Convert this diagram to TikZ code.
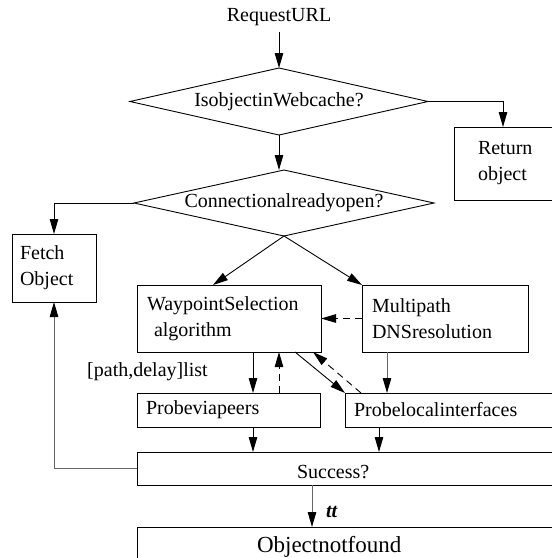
\documentclass[tikz,border=0pt]{standalone}
\usepackage{fontspec}
\setmainfont{Liberation Serif}
\usetikzlibrary{shapes.geometric,arrows.meta,calc}
\begin{document}
\begin{tikzpicture}[x=1pt,y=-1pt,
  every node/.style={font=\fontsize{20}{26}\selectfont, outer sep=0pt},
  line/.style={line width=0.9pt, draw=black},
  arr/.style={line, -{Triangle[length=15pt,width=8.5pt]}},
  darr/.style={arr, dash pattern=on 7pt off 5pt},
  garr/.style={line, draw=black!60, -{Triangle[length=15pt,width=8.5pt,color=black]}},
  dec/.style={diamond, draw, line width=0.9pt, inner sep=0pt},
  box/.style={rectangle, draw, line width=0.9pt, anchor=north west, align=left, inner ysep=0pt},
  lbl/.style={inner sep=2pt},
]
\useasboundingbox (0,0) rectangle (552,558);
\clip (0,0) rectangle (552,558);

\node[inner sep=6pt] (req) at (279,17) {RequestURL};
\node[dec, aspect=4.45, minimum width=298pt, minimum height=67pt] (d1) at (279,101.5) {IsobjectinWebcache?};
\node[dec, aspect=4.5, minimum width=300pt, minimum height=66pt] (d2) at (284,203) {Connectionalreadyopen?};

\node[box, text width=68pt, inner xsep=24pt, minimum height=73pt] (ret) at (454,127) {Return\\object};
\node[box, text width=68pt, inner xsep=8pt, minimum height=68pt] (fetch) at (12,234) {Fetch\\Object};
\node[box, text width=164pt, inner xsep=10pt, minimum height=67pt] (ws) at (137,285) {WaypointSelection\\\hspace*{7pt}algorithm};
\node[box, text width=146pt, inner xsep=10pt, minimum height=67pt] (mdns) at (362,285) {Multipath\\DNSresolution};
\node[lbl] (pdl) at (147.5,372) {[path,delay]list};
\node[box, text width=165pt, inner xsep=9pt, minimum height=34pt] (pvp) at (137,393) {Probeviapeers};
\node[box, text width=217pt, inner xsep=9pt, minimum height=34pt] (pli) at (345,393) {Probelocalinterfaces};
\node[box, text width=143pt, inner xsep=160pt, minimum height=33pt, text height=20pt] (succ) at (137,452) {Success?};
\node[box, text width=223pt, inner xsep=120pt, minimum height=39pt, font=\fontsize{23}{28}\selectfont] (onf) at (137,527) {Objectnotfound};

\draw[arr] (req) -- (d1);
\draw[arr] (d1.east) -| ($(ret.north west)+(49,0)$);
\draw[arr] (d1.south) -- (d1.south |- d2.north);
\draw[arr] (d2.west) -| (fetch.north);
\draw[arr] (d2.south) -- ($(ws.north west)+(76,0)$);
\draw[arr] (d2.south) -- (mdns.north west);
\draw[darr] (mdns.west) -- (ws.east);
\draw[arr] ($(ws.south west)+(116,0)$) -- ($(pvp.north west)+(116,0)$);
\draw[darr] ($(pvp.north west)+(142,0)$) -- ($(ws.south west)+(142,0)$);
\draw[arr] ($(ws.south west)+(158,0)$) -- (pli.north west);
\draw[darr] ($(pli.north west)+(16,0)$) -- ($(ws.south west)+(176,0)$);
\draw[garr] ($(mdns.south west)+(25,0)$) -- ($(pli.north west)+(42,0)$);
\draw[arr] ($(pvp.south west)+(116,0)$) -- ($(succ.north west)+(116,0)$);
\draw[arr] ($(pli.south west)+(34,0)$) -- ($(succ.north west)+(242,0)$);
\draw[garr] (succ.west) -| (fetch.south);
\draw[garr] ($(succ.south west)+(175,0)$) -- node[pos=0.64, anchor=west, xshift=12pt, inner sep=2pt, font=\fontsize{20}{26}\selectfont\bfseries\itshape] (tt) {tt} ($(onf.north west)+(175,0)$);
\end{tikzpicture}
\end{document}
